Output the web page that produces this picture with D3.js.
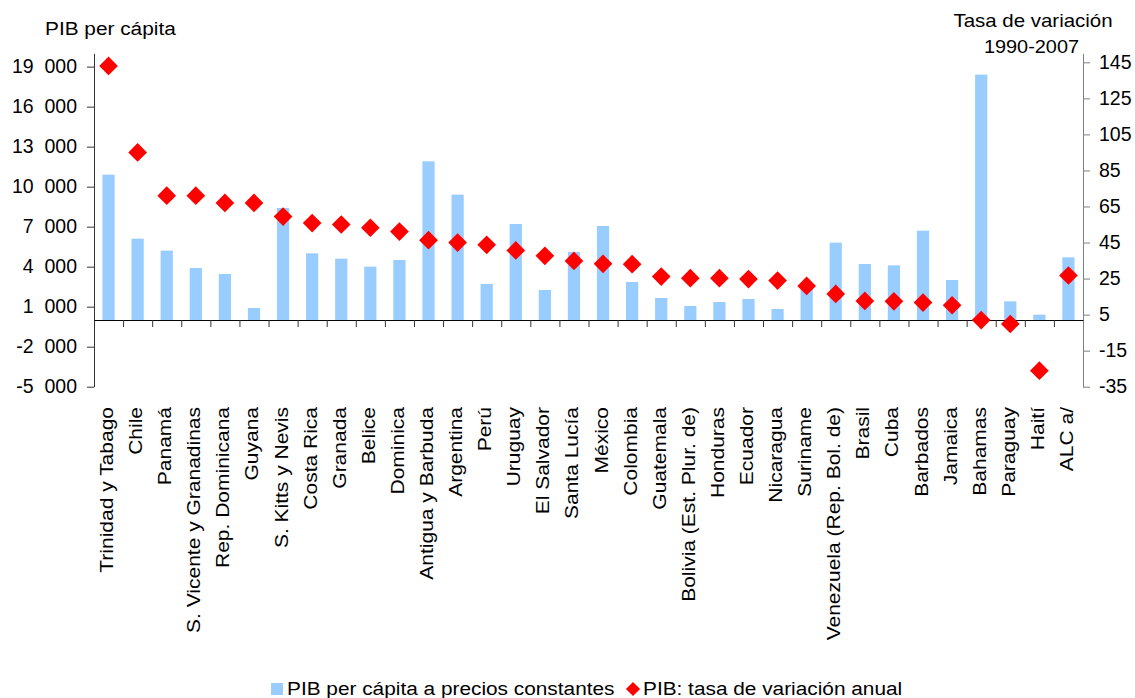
<!DOCTYPE html>
<html>
<head>
<meta charset="utf-8">
<script src="https://cdn.jsdelivr.net/npm/d3@7"></script>
<style>
  html, body { margin: 0; padding: 0; background: #fff; }
  svg { display: block; font-family: "Liberation Sans", Arial, sans-serif; }
  .yl text { white-space: pre; }
</style>
</head>
<body>
<svg id="chart" width="1135" height="698"></svg>
<script>
const categories = ["Trinidad y Tabago", "Chile", "Panamá", "S. Vicente y Granadinas", "Rep. Dominicana", "Guyana",
  "S. Kitts y Nevis", "Costa Rica", "Granada", "Belice", "Dominica", "Antigua y Barbuda", "Argentina", "Perú",
  "Uruguay", "El Salvador", "Santa Lucía", "México", "Colombia", "Guatemala", "Bolivia (Est. Plur. de)",
  "Honduras", "Ecuador", "Nicaragua", "Suriname", "Venezuela (Rep. Bol. de)", "Brasil", "Cuba", "Barbados",
  "Jamaica", "Bahamas", "Paraguay", "Haití", "ALC a/"];

// PIB per cápita a precios constantes (left axis)
const pibPerCapita = [10900, 6100, 5200, 3900, 3450, 900, 8400, 5000, 4600, 4000, 4500, 11900, 9400, 2700,
  7200, 2250, 5100, 7050, 2850, 1650, 1050, 1350, 1575, 825, 2400, 5800, 4200, 4100, 6700, 3000, 18400, 1400, 400, 4700];

// PIB: tasa de variación 1990-2007 (right axis)
const tasaVariacion = [143, 95, 71, 71, 67, 67, 59.4, 55.8, 55, 53.2, 51.1, 46.3, 45, 43.7, 40.6, 37.6, 34.8,
  33.2, 33, 26.1, 25.2, 25.2, 24.7, 23.9, 20.9, 16.5, 12.6, 12.4, 11.7, 10.2, 2.0, -0.2, -26.1, 26.7];

const leftTicks = d3.range(-5000, 20000, 3000);
const rightTicks = d3.range(-35, 150, 20);
const leftTitle = "PIB per cápita";
const rightTitle = ["Tasa de variación", "1990-2007"];
const legendLabels = ["PIB per cápita a precios constantes", "PIB: tasa de variación anual"];

const barColor = "#99CCFF";
const markColor = "#FF0000";

const svg = d3.select("#chart");
const plotL = 94, plotR = 1083, plotT = 53.3, plotB = 386.7;

const yL = d3.scaleLinear().domain([-5000, 20000]).range([plotB, plotT]);
const yR = d3.scaleLinear().domain([-35, 150]).range([plotB, plotT]);
const xB = d3.scaleBand().domain(categories).range([plotL, plotR]).paddingInner(0.58).paddingOuter(0.29);
const xIdx = d3.scaleLinear().domain([0, categories.length]).range([plotL, plotR]);
const cx = c => xB(c) + xB.bandwidth() / 2;

const loc = d3.formatLocale({decimal: ",", thousands: "  ", grouping: [3], currency: ["", ""], minus: "-"});
const fmtL = loc.format(",");

// bars
svg.append("g").selectAll("rect").data(categories).join("rect")
  .attr("x", c => xB(c))
  .attr("width", xB.bandwidth())
  .attr("y", (c, i) => yL(Math.max(0, pibPerCapita[i])))
  .attr("height", (c, i) => Math.abs(yL(pibPerCapita[i]) - yL(0)))
  .attr("fill", barColor);

// left axis
const gL = svg.append("g").attr("class", "yl").attr("transform", `translate(${plotL},0)`)
  .call(d3.axisLeft(yL).tickValues(leftTicks).tickSize(7).tickSizeOuter(0).tickPadding(10).tickFormat(fmtL));
gL.select(".domain").attr("stroke", "#333");
gL.selectAll(".tick line").attr("stroke", "#333");
gL.selectAll("text").attr("font-size", 19.5).attr("fill", "#000");
gL.attr("font-family", null).attr("font-size", null);

// right axis
const gR = svg.append("g").attr("transform", `translate(${plotR},0)`)
  .call(d3.axisRight(yR).tickValues(rightTicks).tickSize(7).tickSizeOuter(0).tickPadding(9).tickFormat(d => String(d)));
gR.select(".domain").attr("stroke", "#808080");
gR.selectAll(".tick line").attr("stroke", "#808080");
gR.selectAll("text").attr("font-size", 19.5).attr("fill", "#000");
gR.attr("font-family", null).attr("font-size", null);

// category axis at zero
const gX = svg.append("g").attr("transform", `translate(0,${yL(0)})`)
  .call(d3.axisBottom(xIdx).tickValues(d3.range(1, categories.length)).tickSize(7).tickSizeOuter(0).tickFormat(""));
gX.select(".domain").attr("stroke", "#000");
gX.selectAll(".tick line").attr("stroke", "#333");

// category labels
svg.append("g").selectAll("text").data(categories).join("text")
  .attr("transform", c => `translate(${cx(c)},407) rotate(-90) scale(1.18,1)`)
  .attr("text-anchor", "end")
  .attr("dy", 4.5)
  .attr("font-size", 17.8)
  .attr("fill", "#000")
  .text(c => c);

// diamonds
const diamond = d3.symbol(d3.symbolSquare, 175);
svg.append("g").selectAll("path").data(categories).join("path")
  .attr("d", diamond)
  .attr("transform", (c, i) => `translate(${cx(c)},${yR(tasaVariacion[i])}) rotate(45)`)
  .attr("fill", markColor);

// titles
svg.append("text").attr("transform", "translate(45,35) scale(1.12,1)")
  .attr("font-size", 18.6).attr("fill", "#000").text(leftTitle);
svg.append("text").attr("transform", "translate(1033,26.7) scale(1.1,1)")
  .attr("text-anchor", "middle").attr("font-size", 18.6).attr("fill", "#000").text(rightTitle[0]);
svg.append("text").attr("transform", "translate(1031.5,53.3) scale(1.07,1)")
  .attr("text-anchor", "middle").attr("font-size", 18.6).attr("fill", "#000").text(rightTitle[1]);

// legend
const lg = svg.append("g");
lg.append("rect").attr("x", 271).attr("y", 683).attr("width", 12).attr("height", 12).attr("fill", barColor);
lg.append("text").attr("transform", "translate(287,695) scale(1.12,1)")
  .attr("font-size", 18.6).attr("fill", "#000").text(legendLabels[0]);
lg.append("path").attr("d", d3.symbol(d3.symbolSquare, 100))
  .attr("transform", "translate(633,689) rotate(45)").attr("fill", markColor);
lg.append("text").attr("transform", "translate(643,695) scale(1.12,1)")
  .attr("font-size", 18.6).attr("fill", "#000").text(legendLabels[1]);
</script>
</body>
</html>
